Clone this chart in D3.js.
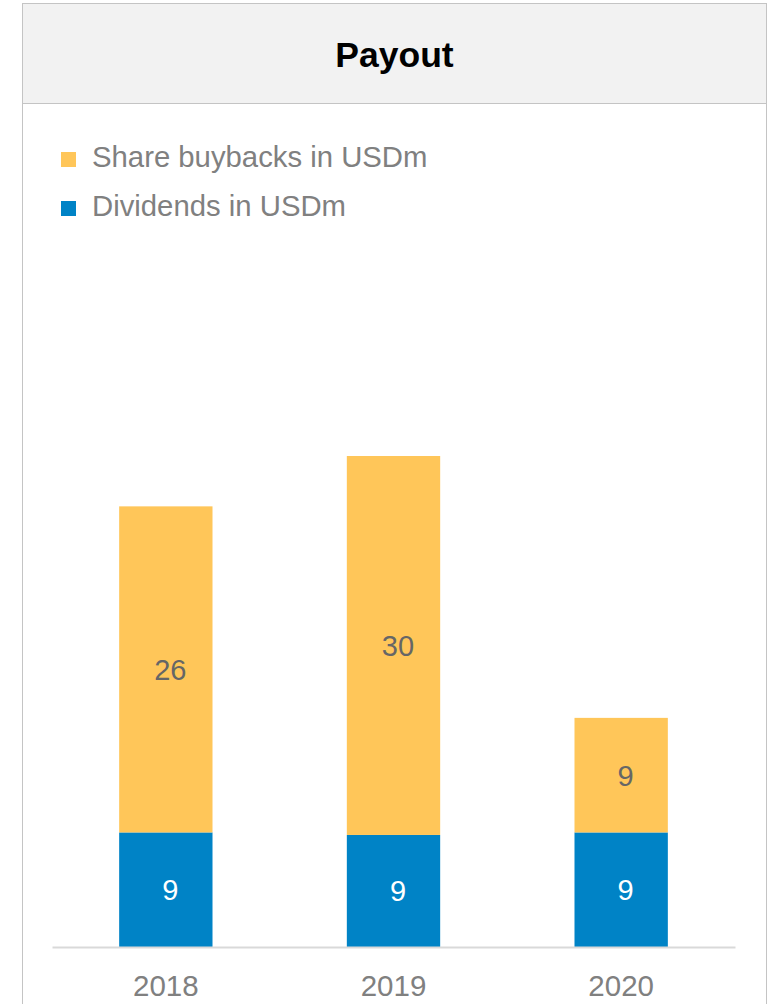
<!DOCTYPE html>
<html>
<head>
<meta charset="utf-8">
<script src="https://cdn.jsdelivr.net/npm/d3@7"></script>
<style>
  html, body { margin: 0; padding: 0; background: #ffffff; }
  svg { display: block; font-family: "Liberation Sans", Arial, sans-serif; }
</style>
</head>
<body>
<svg id="chart" width="770" height="1004"></svg>
<script>
const title = "Payout";
const years = ["2018", "2019", "2020"];
const dividends = [9.1, 8.9, 9.1];
const buybacks = [25.9, 30.1, 9.1];
const seriesNames = ["Share buybacks in USDm", "Dividends in USDm"];
const seriesColors = ["#FFC659", "#0083C6"];

const svg = d3.select("#chart");
const W = 770, H = 1004;

// Frame & header
const frame = { left: 22.5, right: 766.5, top: 3.5, headerBottom: 103.5 };
svg.append("rect")
  .attr("x", frame.left).attr("y", frame.top)
  .attr("width", frame.right - frame.left).attr("height", H + 10)
  .attr("fill", "#ffffff").attr("stroke", "#C4C4C4").attr("stroke-width", 1);
svg.append("rect")
  .attr("x", frame.left).attr("y", frame.top)
  .attr("width", frame.right - frame.left).attr("height", frame.headerBottom - frame.top)
  .attr("fill", "#F2F2F2").attr("stroke", "#C4C4C4").attr("stroke-width", 1);
svg.append("text")
  .attr("x", (frame.left + frame.right) / 2).attr("y", 67)
  .attr("text-anchor", "middle")
  .attr("font-size", 35.5).attr("font-weight", "bold").attr("fill", "#000000")
  .text(title);

// Legend
const legend = svg.append("g");
seriesNames.forEach((name, i) => {
  const gy = 167 + i * 49;
  legend.append("rect")
    .attr("x", 61).attr("y", gy - 15).attr("width", 15).attr("height", 15)
    .attr("fill", seriesColors[i]);
  legend.append("text")
    .attr("x", 92).attr("y", gy)
    .attr("font-size", 29.3).attr("fill", "#808080")
    .text(name);
});

// Scales
const totals = years.map((_, i) => dividends[i] + buybacks[i]);
const x = d3.scaleBand().domain(years).range([52, 735]).paddingInner(0.59).paddingOuter(0.295);
const y = d3.scaleLinear().domain([0, d3.max(totals)]).range([947, 456]);
const fmt = d3.format(".0f");

const rows = years.map((yr, i) => ({ year: yr, div: dividends[i], buy: buybacks[i] }));
const stack = d3.stack().keys(["div", "buy"])(rows);
const keyColor = { div: seriesColors[1], buy: seriesColors[0] };
const labelColor = { div: "#ffffff", buy: "#666666" };

const g = svg.append("g");
stack.forEach(layer => {
  g.selectAll(null).data(layer).enter().append("rect")
    .attr("x", d => x(d.data.year))
    .attr("width", x.bandwidth())
    .attr("y", d => y(d[1]))
    .attr("height", d => y(d[0]) - y(d[1]))
    .attr("fill", keyColor[layer.key]);
  g.selectAll(null).data(layer).enter().append("text")
    .attr("x", d => x(d.data.year) + x.bandwidth() / 2)
    .attr("y", d => (y(d[0]) + y(d[1])) / 2)
    .attr("dx", 4.5)
    .attr("dy", "0.36em")
    .attr("text-anchor", "middle")
    .attr("font-size", 29)
    .attr("fill", labelColor[layer.key])
    .text(d => fmt(d[1] - d[0]));
});

// X axis
const xAxis = d3.axisBottom(x).tickSize(0).tickPadding(28);
const ax = svg.append("g").attr("transform", "translate(0,947)").call(xAxis);
ax.select(".domain").attr("stroke", "#D9D9D9").attr("stroke-width", 2);
ax.selectAll("text")
  .attr("font-size", 29.5).attr("fill", "#808080")
  .attr("font-family", "Liberation Sans, Arial, sans-serif");
</script>
</body>
</html>
